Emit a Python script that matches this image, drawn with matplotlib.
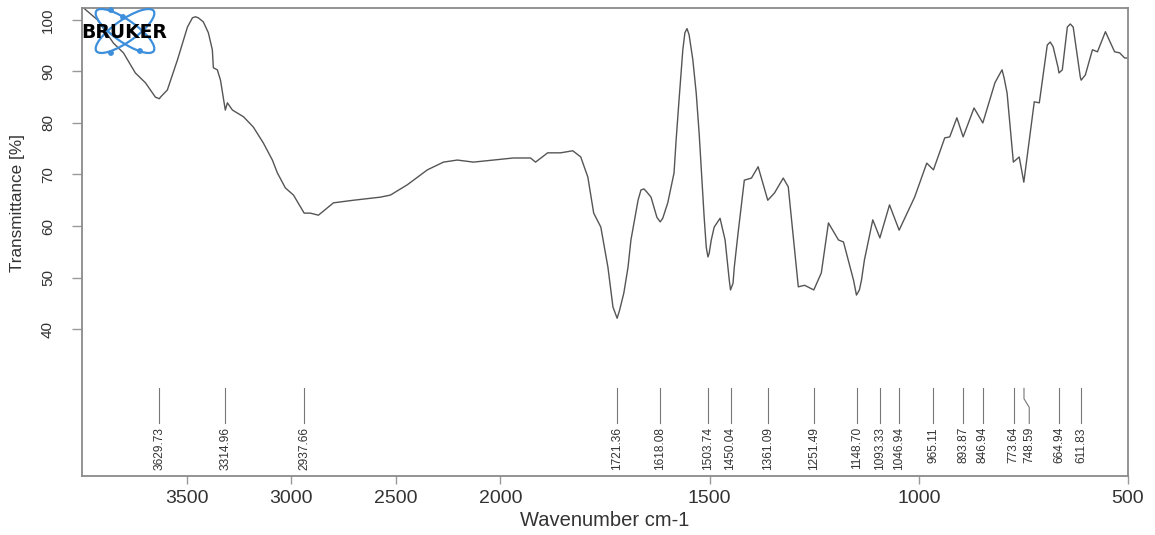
import numpy as np
import matplotlib
matplotlib.use("Agg")
import matplotlib.pyplot as plt
from matplotlib.patches import Ellipse, Circle

### Spectrum (wavenumber in cm-1, transmittance in %)
wavenumber = np.array([
    3998, 3926, 3850, 3802, 3745, 3697, 3649, 3630, 3625, 3592, 3544, 3496,
    3472, 3458, 3444, 3420, 3396, 3377, 3372, 3353, 3338, 3315, 3305, 3281,
    3228, 3181, 3133, 3090, 3066, 3028, 2989, 2938, 2908, 2870, 2798, 2703,
    2574, 2526, 2445, 2349, 2272, 2206, 2129, 2033, 1969, 1928, 1916, 1887,
    1856, 1827, 1808, 1791, 1777, 1760, 1743, 1731, 1721, 1715, 1705, 1695,
    1688, 1671, 1664, 1657, 1650, 1640, 1626, 1618, 1612, 1600, 1585, 1580,
    1573, 1564, 1559, 1554, 1549, 1540, 1532, 1525, 1513, 1508, 1504, 1501,
    1496, 1489, 1475, 1463, 1453, 1450, 1444, 1441, 1432, 1417, 1400, 1384,
    1361, 1345, 1324, 1312, 1288, 1273, 1251, 1233, 1216, 1192, 1180, 1156,
    1149, 1142, 1137, 1130, 1110, 1093, 1070, 1047, 1010, 981, 965, 938,
    926, 909, 894, 868, 847, 818, 808, 801, 796, 789, 774, 760,
    749, 724, 712, 693, 686, 679, 667, 665, 657, 645, 638, 631,
    614, 612, 602, 585, 573, 554, 532, 520, 508, 500])
transmittance = np.array([
    102.5, 100.0, 95.5, 93.6, 89.7, 87.8, 85.0, 84.7, 85.0, 86.4, 92.2, 98.6,
    100.4, 100.6, 100.4, 99.6, 97.5, 94.2, 90.7, 90.3, 88.3, 82.5, 83.9, 82.5,
    81.2, 79.2, 76.1, 72.8, 70.3, 67.4, 66.0, 62.5, 62.5, 62.1, 64.5, 65.0,
    65.6, 66.0, 68.0, 70.9, 72.4, 72.8, 72.4, 72.8, 73.2, 73.2, 72.4, 74.2,
    74.2, 74.6, 73.4, 69.5, 62.5, 59.8, 52.0, 44.3, 42.1, 43.7, 47.0, 52.0,
    57.3, 65.0, 67.0, 67.2, 66.6, 65.6, 61.7, 60.8, 61.5, 64.5, 70.3, 76.7,
    84.5, 94.2, 97.5, 98.3, 97.1, 92.2, 85.8, 78.0, 61.7, 55.9, 54.0, 54.7,
    57.3, 59.8, 61.5, 57.3, 49.5, 47.6, 48.9, 52.0, 58.6, 68.9, 69.3, 71.5,
    65.0, 66.4, 69.3, 67.6, 48.2, 48.5, 47.6, 50.9, 60.6, 57.3, 56.9, 49.5,
    46.6, 47.6, 49.5, 53.4, 61.2, 57.7, 64.1, 59.2, 65.6, 72.2, 70.9, 77.1,
    77.3, 81.0, 77.3, 82.9, 80.0, 87.8, 89.3, 90.3, 88.7, 85.8, 72.4, 73.4,
    68.5, 84.1, 83.9, 95.1, 95.7, 94.8, 90.7, 89.7, 90.3, 98.6, 99.2, 98.6,
    88.9, 88.3, 89.3, 94.2, 93.8, 97.7, 93.8, 93.6, 92.6, 92.6])

### Peak picking results
peaks = [3629.73, 3314.96, 2937.66, 1721.36, 1618.08, 1503.74, 1450.04,
         1361.09, 1251.49, 1148.70, 1093.33, 1046.94, 965.11, 893.87,
         846.94, 773.64, 748.59, 664.94, 611.83]
# label shifted sideways where two peaks sit too close
label_pos = {748.59: 736.0}

xticks = [3500, 3000, 2500, 2000, 1500, 1000, 500]
yticks = [40, 50, 60, 70, 80, 90, 100]

font = ['Liberation Sans', 'DejaVu Sans']

# wavenumber axis is compressed by 2 above 2000 cm-1
def fwd(w):
    w = np.asarray(w, dtype=float)
    return np.where(w > 2000, 2000 + (w - 2000) * 0.5, w)

def inv(p):
    p = np.asarray(p, dtype=float)
    return np.where(p > 2000, 2000 + (p - 2000) * 2.0, p)

W, H = 1155, 535
fig = plt.figure(figsize=(W / 100, H / 100), dpi=100)
ax = fig.add_axes([82 / W, 1 - 476 / H, (1128 - 82) / W, (476 - 8) / H])
ax.set_xscale('function', functions=(fwd, inv))
ax.set_xlim(4000, 500)
ax.set_ylim(11.5, 102.3)

ax.plot(wavenumber, transmittance, color='#555555', lw=1.0)

# peak markers and labels
for p in peaks:
    lx = label_pos.get(p, p)
    if lx == p:
        ax.plot([p, p], [28.5, 21.7], color='#777777', lw=0.8)
    else:
        ax.plot([p, p, lx, lx], [28.5, 26.5, 24.8, 21.7], color='#777777', lw=0.8)
    ax.text(lx, 21.0, '%.2f' % p, rotation=90, ha='center', va='top',
            fontsize=8.6, family=font, color='#333333')

ax.set_xticks(xticks)
ax.set_xticklabels([str(t) for t in xticks], fontsize=14, family=font,
                   color='#333333')
ax.minorticks_off()
ax.set_yticks(yticks)
ax.set_yticklabels([str(t) for t in yticks], fontsize=11, family=font,
                   rotation=90, va='center', color='#333333')
ax.tick_params(axis='x', length=6, width=1, color='#999999', pad=4)
ax.tick_params(axis='y', length=7, width=1, color='#999999', pad=12.5)
for s in ax.spines.values():
    s.set_color('#8a8a8a')
    s.set_linewidth(1.3)

fig.text(605 / W, 1 - 521 / H, 'Wavenumber cm-1', ha='center', va='center',
         fontsize=14.5, family=font, color='#333333')
fig.text(18 / W, 1 - 203 / H, 'Transmittance [%]', ha='center', va='center',
         rotation=90, fontsize=12.3, family=font, color='#333333')

# instrument logo in pixel coordinates
lg = fig.add_axes([0, 0, 1, 1], facecolor='none')
lg.set_xlim(0, W)
lg.set_ylim(H, 0)
lg.axis('off')
blue = '#3d8fdc'
for ang in (35, -35):
    lg.add_patch(Ellipse((125, 31), 70, 22, angle=ang, fill=False,
                         ec=blue, lw=1.6))
for cx, cy in [(111, 10), (111, 53), (123, 17), (140, 51)]:
    lg.add_patch(Circle((cx, cy), 2.2, color=blue))
lg.text(124.5, 32, 'BRUKER', ha='center', va='center', fontsize=13.5,
        fontweight='heavy', family=['DejaVu Sans'], color='black')

fig.savefig('out.png', dpi=100)
